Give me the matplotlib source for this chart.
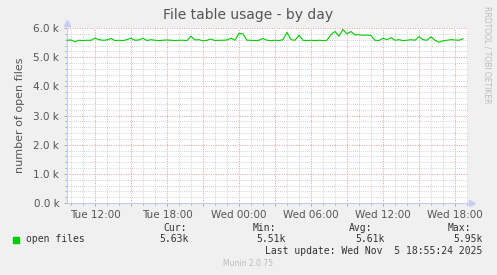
import numpy as np
import pandas as pd
import matplotlib
matplotlib.use("Agg")
import matplotlib.pyplot as plt
import matplotlib.dates as mdates
from matplotlib.ticker import MultipleLocator, FuncFormatter

# open files, sampled every 20 minutes (in thousands)
start_time = "2025-11-04 09:40"
open_files_k = [
    5.58, 5.59, 5.53, 5.58, 5.57, 5.58, 5.58, 5.65, 5.60, 5.58,
    5.59, 5.64, 5.57, 5.58, 5.57, 5.60, 5.65, 5.58, 5.59, 5.65,
    5.57, 5.60, 5.58, 5.57, 5.58, 5.59, 5.58, 5.57, 5.58, 5.58,
    5.57, 5.72, 5.59, 5.60, 5.56, 5.58, 5.62, 5.57, 5.58, 5.58,
    5.59, 5.65, 5.58, 5.82, 5.80, 5.58, 5.58, 5.57, 5.58, 5.64,
    5.58, 5.57, 5.58, 5.57, 5.60, 5.85, 5.60, 5.58, 5.75, 5.58,
    5.57, 5.58, 5.57, 5.58, 5.57, 5.58, 5.78, 5.88, 5.72, 5.95,
    5.80, 5.88, 5.76, 5.77, 5.75, 5.76, 5.74, 5.58, 5.57, 5.65,
    5.60, 5.67, 5.58, 5.60, 5.57, 5.58, 5.60, 5.58, 5.70, 5.60,
    5.58, 5.70, 5.58, 5.51, 5.56, 5.58, 5.60, 5.59, 5.58, 5.63,
]
x_start = "2025-11-04 09:40"
x_end = "2025-11-05 19:05"

legend_label = "open files"
stats_names = ["Cur:", "Min:", "Avg:", "Max:"]
stats_values = ["5.63k", "5.51k", "5.61k", "5.95k"]
last_update = "Last update: Wed Nov  5 18:55:24 2025"

times = pd.date_range(start_time, periods=len(open_files_k), freq="20min")
values = np.array(open_files_k) * 1000

bg = "#F0F0F0"
fig = plt.figure(figsize=(4.97, 2.75), dpi=100, facecolor=bg)
ax = fig.add_axes([67 / 497, 1 - 203 / 275, 401 / 497, 175 / 275])
ax.set_facecolor("white")

ax.plot(times, values, color="#00CC00", lw=0.8, zorder=3)

ax.set_xlim(pd.Timestamp(x_start), pd.Timestamp(x_end))
ax.set_ylim(0, 6000)

# ticks / grid
ax.xaxis.set_major_locator(mdates.HourLocator(byhour=range(0, 24, 3)))
ax.xaxis.set_minor_locator(mdates.HourLocator())


def xfmt(v, pos):
    d = mdates.num2date(v)
    return d.strftime("%a %H:%M") if d.hour % 6 == 0 else ""


ax.xaxis.set_major_formatter(FuncFormatter(xfmt))
ax.yaxis.set_major_locator(MultipleLocator(1000))
ax.yaxis.set_minor_locator(MultipleLocator(200))
ax.yaxis.set_major_formatter(FuncFormatter(lambda v, p: f"{v / 1000:.1f} k"))

ax.grid(which="minor", color="#C4C4C4", lw=0.6, ls=(0, (1, 1.5)))
ax.grid(which="major", color="#E89898", lw=0.7, ls=(0, (1, 1.5)))
ax.set_axisbelow(True)

ax.tick_params(which="both", colors="#9090A0", labelcolor="#555555", labelsize=7.5,
               length=2, width=0.5)
ax.tick_params(which="minor", length=1.5)
ax.tick_params(axis="x", pad=3)

for s in ["top", "right"]:
    ax.spines[s].set_visible(False)
for s in ["left", "bottom"]:
    ax.spines[s].set_color("#C8CCF4")
    ax.spines[s].set_linewidth(0.8)

# axis arrows
ax.plot([1.01], [0], marker=">", ms=4, color="#C8CCF4", transform=ax.transAxes, clip_on=False)
ax.plot([0], [1.03], marker="^", ms=4, color="#C8CCF4", transform=ax.transAxes, clip_on=False)
ax.plot([1, 1.01], [0, 0], color="#C8CCF4", lw=0.8, transform=ax.transAxes, clip_on=False)

ax.set_ylabel("number of open files", fontsize=8, color="#555555", labelpad=6)
fig.text(0.5, 1 - 15 / 275, "File table usage - by day", ha="center", va="center",
         fontsize=10, color="#555555")

# legend block
mono = "DejaVu Sans Mono"
fig.patches.append(plt.Rectangle((13 / 497, 1 - 243 / 275), 6 / 497, 6 / 275,
                                 transform=fig.transFigure, color="#00CC00"))
fig.text(26 / 497, 1 - 239 / 275, legend_label, fontfamily=mono, fontsize=7,
         va="center", color="#333333")
name_x = [175, 264, 361, 459]
val_x = [189, 286, 385, 483]
for n, v, nx, vx in zip(stats_names, stats_values, name_x, val_x):
    fig.text(nx / 497, 1 - 228 / 275, n, fontfamily=mono, fontsize=7,
             ha="center", va="center", color="#333333")
    fig.text(vx / 497, 1 - 239 / 275, v, fontfamily=mono, fontsize=7,
             ha="right", va="center", color="#333333")
fig.text(482 / 497, 1 - 251 / 275, last_update, fontfamily=mono, fontsize=7,
         ha="right", va="center", color="#333333")
fig.text(248 / 497, 1 - 264 / 275, "Munin 2.0.75", fontsize=5.5, ha="center",
         va="center", color="#BBBBBB")
fig.text(487 / 497, 1 - 55 / 275, "RRDTOOL / TOBI OETIKER", fontsize=5.5, rotation=270,
         ha="center", va="center", color="#BBBBBB")

fig.savefig("out.png", dpi=100, facecolor=bg)
